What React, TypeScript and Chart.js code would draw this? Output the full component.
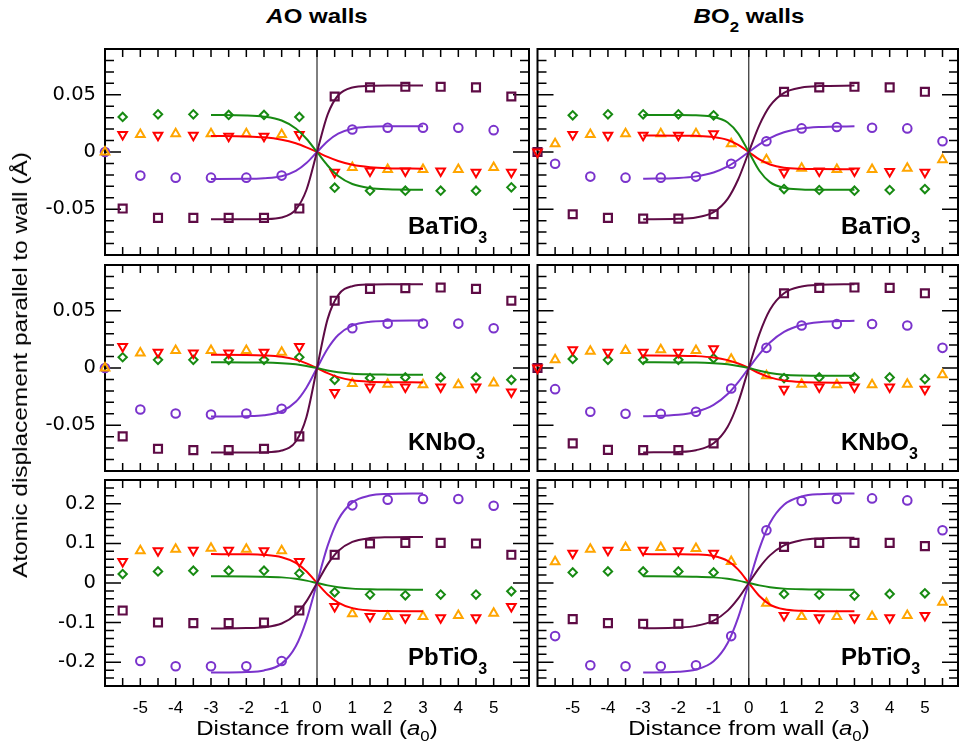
import React, { useEffect, useRef } from "react";
import { Chart, registerables } from "chart.js";
Chart.register(...registerables);

// ---------- tick labels ----------
const xTickLabels = [-5, -4, -3, -2, -1, 0, 1, 2, 3, 4, 5];
const yTicksSmall = [-0.05, 0, 0.05];
const yTicksLarge = [-0.2, -0.1, 0, 0.1, 0.2];
const yRangeSmall = [-0.09, 0.09];
const yRangeLarge = [-0.26, 0.26];
const xRangeLeft = [-6, 6];
const xRangeRight = [-6, 5.94];

// ---------- x positions ----------
const xHalf = [-5.5, -4.5, -3.5, -2.5, -1.5, -0.5, 0.5, 1.5, 2.5, 3.5, 4.5, 5.5];
const xInt = [-5, -4, -3, -2, -1, 1, 2, 3, 4, 5];
const xIntWall = [-6, -5, -4, -3, -2, -1, 1, 2, 3, 4, 5];
const xCurve = [-3, -2, -1.5, -1, -0.6, -0.3, 0, 0.3, 0.6, 1, 1.5, 2, 3];

// ---------- BaTiO3, AO walls ----------
const batAoSquare = [-0.0494, -0.0576, -0.0576, -0.0576, -0.0576, -0.0494, 0.0485, 0.0565, 0.057, 0.057, 0.0565, 0.0485];
const batAoDiamond = [0.0306, 0.0329, 0.0329, 0.0324, 0.0324, 0.0306, -0.0312, -0.0338, -0.0338, -0.0338, -0.0338, -0.0309];
const batAoDown = [0.0153, 0.0147, 0.0147, 0.0138, 0.0138, 0.0153, -0.0176, -0.0165, -0.0165, -0.0165, -0.0176, -0.0176];
const batAoCircle = [0, -0.0206, -0.0224, -0.0224, -0.0224, -0.0206, 0.0197, 0.0212, 0.0212, 0.0212, 0.0191];
const batAoUp = [0, 0.0153, 0.0159, 0.0159, 0.0159, 0.0153, -0.0135, -0.0153, -0.0153, -0.0153, -0.0135];
const batAoFitSquare = [-0.0588, -0.0588, -0.0586, -0.0572, -0.0503, -0.0332, 0, 0.0327, 0.0496, 0.0564, 0.0578, 0.058, 0.058];
const batAoFitCircle = [-0.0235, -0.0234, -0.0229, -0.0212, -0.0166, -0.0097, 0, 0.0094, 0.016, 0.0203, 0.0221, 0.0225, 0.0226];
const batAoFitDiamond = [0.0324, 0.032, 0.0309, 0.0275, 0.0206, 0.0116, 0, -0.0118, -0.021, -0.028, -0.0315, -0.0326, -0.033];
const batAoFitDown = [0.014, 0.0136, 0.0128, 0.0107, 0.0076, 0.0041, 0, -0.0043, -0.0079, -0.0112, -0.0133, -0.0142, -0.0146];

// ---------- BaTiO3, BO2 walls ----------
const batBoSquare = [0, -0.0544, -0.0576, -0.0582, -0.0582, -0.0544, 0.0526, 0.0565, 0.057, 0.0565, 0.0526];
const batBoDiamond = [0.0321, 0.0329, 0.0329, 0.0329, 0.0321, -0.0324, -0.0332, -0.0338, -0.0332, -0.0324];
const batBoDown = [0, 0.0153, 0.0147, 0.0147, 0.0147, 0.0159, -0.0176, -0.0165, -0.0165, -0.0171, -0.0176];
const batBoCircle = [-0.0103, -0.0215, -0.0224, -0.0224, -0.0215, -0.0103, 0.0094, 0.0206, 0.0218, 0.0212, 0.0206, 0.0094];
const batBoUp = [0.0071, 0.0153, 0.0159, 0.0159, 0.0159, 0.0071, -0.0068, -0.0141, -0.0153, -0.0153, -0.0141, -0.0068];
const batBoFitSquare = [-0.0588, -0.0584, -0.0572, -0.0525, -0.0409, -0.0238, 0, 0.0235, 0.0403, 0.0517, 0.0564, 0.0576, 0.058];
const batBoFitCircle = [-0.0234, -0.0227, -0.0213, -0.0179, -0.0126, -0.0068, 0, 0.0066, 0.0121, 0.0172, 0.0205, 0.0218, 0.0225];
const batBoFitDiamond = [0.0324, 0.0324, 0.0321, 0.0307, 0.0258, 0.0161, 0, -0.0164, -0.0263, -0.0313, -0.0327, -0.033, -0.033];
const batBoFitDown = [0.0144, 0.0143, 0.0141, 0.0131, 0.0105, 0.0062, 0, -0.0065, -0.0109, -0.0137, -0.0147, -0.0149, -0.015];

// ---------- KNbO3, AO walls ----------
const knbAoSquare = [-0.0597, -0.0706, -0.0718, -0.0718, -0.0706, -0.0597, 0.0588, 0.0691, 0.0697, 0.0703, 0.0691, 0.0588];
const knbAoDiamond = [0.0094, 0.0071, 0.0071, 0.0071, 0.0071, 0.0094, -0.0103, -0.0088, -0.0082, -0.0082, -0.0082, -0.0103];
const knbAoDown = [0.0188, 0.0138, 0.0132, 0.0132, 0.0138, 0.0188, -0.0215, -0.0165, -0.0165, -0.0165, -0.0165, -0.0209];
const knbAoCircle = [0, -0.0362, -0.0397, -0.0406, -0.0397, -0.0356, 0.0347, 0.0388, 0.0388, 0.0388, 0.0347];
const knbAoUp = [0, 0.0132, 0.0153, 0.0153, 0.0153, 0.0138, -0.0135, -0.0141, -0.0147, -0.0147, -0.0132];
const knbAoFitSquare = [-0.0738, -0.0738, -0.0736, -0.0721, -0.0642, -0.043, 0, 0.0427, 0.0637, 0.0715, 0.073, 0.0732, 0.0732];
const knbAoFitCircle = [-0.0424, -0.0421, -0.0413, -0.0378, -0.0295, -0.0172, 0, 0.0168, 0.0288, 0.037, 0.0404, 0.0412, 0.0415];
const knbAoFitDiamond = [0.005, 0.0049, 0.0048, 0.0042, 0.0032, 0.0018, 0, -0.0021, -0.0037, -0.005, -0.0056, -0.0058, -0.0059];
const knbAoFitDown = [0.0115, 0.0114, 0.011, 0.0098, 0.0073, 0.0041, 0, -0.0045, -0.008, -0.0107, -0.012, -0.0124, -0.0126];

// ---------- KNbO3, BO2 walls ----------
const knbBoSquare = [0, -0.0659, -0.0715, -0.0718, -0.0718, -0.0659, 0.0653, 0.07, 0.0703, 0.07, 0.0653];
const knbBoDiamond = [0.0079, 0.0071, 0.0071, 0.0071, 0.0085, -0.0088, -0.0082, -0.0082, -0.0082, -0.0097];
const knbBoDown = [0, 0.0159, 0.0138, 0.0138, 0.0138, 0.0168, -0.0185, -0.0165, -0.0165, -0.0165, -0.0185];
const knbBoCircle = [-0.0185, -0.0382, -0.04, -0.04, -0.0382, -0.0179, 0.0176, 0.0371, 0.0385, 0.0385, 0.0371, 0.0176];
const knbBoUp = [0.0071, 0.0147, 0.0153, 0.0159, 0.0153, 0.0076, -0.0068, -0.0141, -0.0147, -0.0147, -0.0141, -0.0059];
const knbBoFitSquare = [-0.0738, -0.0733, -0.0718, -0.0658, -0.0513, -0.0299, 0, 0.0296, 0.0509, 0.0653, 0.0712, 0.0727, 0.0732];
const knbBoFitCircle = [-0.0422, -0.0409, -0.0384, -0.0323, -0.0228, -0.0123, 0, 0.0121, 0.0223, 0.0316, 0.0376, 0.04, 0.0413];
const knbBoFitDiamond = [0.005, 0.0049, 0.0048, 0.0042, 0.0032, 0.0018, 0, -0.0024, -0.0043, -0.0058, -0.0065, -0.0067, -0.0068];
const knbBoFitDown = [0.0109, 0.0108, 0.0104, 0.0092, 0.0069, 0.0039, 0, -0.0046, -0.0082, -0.0109, -0.0123, -0.0127, -0.0129];

// ---------- PbTiO3, AO walls ----------
const ptoAoSquare = [-0.0695, -0.0997, -0.1013, -0.1013, -0.0997, -0.0695, 0.0712, 0.0997, 0.1013, 0.1013, 0.0997, 0.0712];
const ptoAoDiamond = [0.0226, 0.0293, 0.031, 0.031, 0.031, 0.0243, -0.0235, -0.0293, -0.031, -0.0293, -0.0293, -0.0209];
const ptoAoDown = [0.0544, 0.0812, 0.0829, 0.0829, 0.0812, 0.0544, -0.0595, -0.0846, -0.0879, -0.0879, -0.0879, -0.0595];
const ptoAoCircle = [-0.1968, -0.2102, -0.2102, -0.2102, -0.1968, 0.196, 0.2102, 0.2119, 0.2119, 0.1951];
const ptoAoUp = [0.0812, 0.0854, 0.0879, 0.0854, 0.0812, -0.0779, -0.0846, -0.0846, -0.0821, -0.0762];
const ptoAoFitSquare = [-0.1147, -0.1139, -0.1116, -0.1023, -0.0797, -0.0465, 0, 0.0471, 0.0809, 0.1038, 0.1133, 0.1156, 0.1164];
const ptoAoFitCircle = [-0.2261, -0.2247, -0.2207, -0.2035, -0.1596, -0.0936, 0, 0.0936, 0.1596, 0.2035, 0.2207, 0.2247, 0.2261];
const ptoAoFitDiamond = [0.0168, 0.0166, 0.016, 0.0142, 0.0107, 0.006, 0, -0.006, -0.0107, -0.0142, -0.016, -0.0166, -0.0168];
const ptoAoFitDown = [0.0729, 0.0724, 0.0709, 0.065, 0.0507, 0.0295, 0, -0.0288, -0.0495, -0.0635, -0.0693, -0.0707, -0.0712];

// ---------- PbTiO3, BO2 walls ----------
const ptoBoSquare = [-0.0913, -0.1013, -0.103, -0.103, -0.0913, 0.0913, 0.1013, 0.1013, 0.1013, 0.093];
const ptoBoDiamond = [0.0268, 0.0293, 0.0293, 0.0293, 0.0268, -0.0276, -0.0293, -0.0318, -0.0276, -0.026];
const ptoBoDown = [0.0754, 0.0829, 0.0829, 0.0812, 0.0754, -0.0821, -0.0879, -0.0879, -0.0879, -0.0821];
const ptoBoCircle = [-0.134, -0.2077, -0.2102, -0.2102, -0.2077, -0.134, 0.1332, 0.2069, 0.2119, 0.2136, 0.2085, 0.1332];
const ptoBoUp = [0.0536, 0.0854, 0.0896, 0.0896, 0.0871, 0.0544, -0.0511, -0.0846, -0.0846, -0.0846, -0.0821, -0.0486];
const ptoBoFitSquare = [-0.1145, -0.1126, -0.1082, -0.0949, -0.0697, -0.0389, 0, 0.0389, 0.0697, 0.0949, 0.1082, 0.1126, 0.1145];
const ptoBoFitCircle = [-0.2259, -0.2241, -0.2184, -0.1976, -0.1515, -0.0868, 0, 0.0868, 0.1515, 0.1976, 0.2184, 0.2241, 0.2259];
const ptoBoFitDiamond = [0.0168, 0.0166, 0.016, 0.0142, 0.0107, 0.006, 0, -0.006, -0.0107, -0.0142, -0.016, -0.0166, -0.0168];
const ptoBoFitDown = [0.0729, 0.0727, 0.072, 0.0679, 0.0556, 0.0337, 0, -0.0329, -0.0543, -0.0664, -0.0703, -0.071, -0.0712];

// ---------- styles ----------
const C_SQ = "#5e0b45";
const C_CI = "#7a33cc";
const C_DI = "#178a12";
const C_UP = "#ffa500";
const C_DN = "#ff0000";
const FONT = "'Liberation Sans', Arial, Helvetica, sans-serif";
const YFONT = "'DejaVu Sans', 'Liberation Sans', sans-serif";

type S = { x: number[]; y: number[] };
interface PanelDef {
  row: number;
  col: number;
  formula: string;
  yRange: number[];
  yMajor: number[];
  yMinorStep: number;
  sq: S; ci: S; di: S; up: S; dn: S;
  fitSq: number[]; fitCi: number[]; fitDi: number[]; fitDn: number[];
}

const panels: PanelDef[] = [
  { row: 0, col: 0, formula: "BaTiO", yRange: yRangeSmall, yMajor: yTicksSmall, yMinorStep: 0.01,
    sq: { x: xHalf, y: batAoSquare }, di: { x: xHalf, y: batAoDiamond }, dn: { x: xHalf, y: batAoDown },
    ci: { x: xIntWall, y: batAoCircle }, up: { x: xIntWall, y: batAoUp },
    fitSq: batAoFitSquare, fitCi: batAoFitCircle, fitDi: batAoFitDiamond, fitDn: batAoFitDown },
  { row: 0, col: 1, formula: "BaTiO", yRange: yRangeSmall, yMajor: yTicksSmall, yMinorStep: 0.01,
    sq: { x: xIntWall, y: batBoSquare }, di: { x: xInt, y: batBoDiamond }, dn: { x: xIntWall, y: batBoDown },
    ci: { x: xHalf, y: batBoCircle }, up: { x: xHalf, y: batBoUp },
    fitSq: batBoFitSquare, fitCi: batBoFitCircle, fitDi: batBoFitDiamond, fitDn: batBoFitDown },
  { row: 1, col: 0, formula: "KNbO", yRange: yRangeSmall, yMajor: yTicksSmall, yMinorStep: 0.01,
    sq: { x: xHalf, y: knbAoSquare }, di: { x: xHalf, y: knbAoDiamond }, dn: { x: xHalf, y: knbAoDown },
    ci: { x: xIntWall, y: knbAoCircle }, up: { x: xIntWall, y: knbAoUp },
    fitSq: knbAoFitSquare, fitCi: knbAoFitCircle, fitDi: knbAoFitDiamond, fitDn: knbAoFitDown },
  { row: 1, col: 1, formula: "KNbO", yRange: yRangeSmall, yMajor: yTicksSmall, yMinorStep: 0.01,
    sq: { x: xIntWall, y: knbBoSquare }, di: { x: xInt, y: knbBoDiamond }, dn: { x: xIntWall, y: knbBoDown },
    ci: { x: xHalf, y: knbBoCircle }, up: { x: xHalf, y: knbBoUp },
    fitSq: knbBoFitSquare, fitCi: knbBoFitCircle, fitDi: knbBoFitDiamond, fitDn: knbBoFitDown },
  { row: 2, col: 0, formula: "PbTiO", yRange: yRangeLarge, yMajor: yTicksLarge, yMinorStep: 0.02,
    sq: { x: xHalf, y: ptoAoSquare }, di: { x: xHalf, y: ptoAoDiamond }, dn: { x: xHalf, y: ptoAoDown },
    ci: { x: xInt, y: ptoAoCircle }, up: { x: xInt, y: ptoAoUp },
    fitSq: ptoAoFitSquare, fitCi: ptoAoFitCircle, fitDi: ptoAoFitDiamond, fitDn: ptoAoFitDown },
  { row: 2, col: 1, formula: "PbTiO", yRange: yRangeLarge, yMajor: yTicksLarge, yMinorStep: 0.02,
    sq: { x: xInt, y: ptoBoSquare }, di: { x: xInt, y: ptoBoDiamond }, dn: { x: xInt, y: ptoBoDown },
    ci: { x: xHalf, y: ptoBoCircle }, up: { x: xHalf, y: ptoBoUp },
    fitSq: ptoBoFitSquare, fitCi: ptoBoFitCircle, fitDi: ptoBoFitDiamond, fitDn: ptoBoFitDown },
];

// geometry of the canvases
const colGeom = [
  { x: 0, w: 535, padL: 0, padR: 6, yAxis: true, center: 317, labelLeft: 408 },
  { x: 531, w: 428, padL: 6.5, padR: 1, yAxis: false, center: 749, labelLeft: 841 },
];
const rowGeom = [
  { y: 40, h: 222, padT: 9, padB: 7, xAxis: false, bottom: 255 },
  { y: 258, h: 220, padT: 7, padB: 7, xAxis: false, bottom: 471 },
  { y: 474, h: 280, padT: 6, padB: 0, xAxis: true, bottom: 686 },
];

const frameTicks = {
  id: "frameTicks",
  beforeDatasetsDraw(chart: any) {
    const o = chart.options.plugins.frameTicks;
    const { ctx } = chart;
    const { left, right, top, bottom } = chart.chartArea;
    const xs = chart.scales.x;
    const ys = chart.scales.y;
    ctx.save();
    ctx.strokeStyle = "#000";
    // zero line
    ctx.lineWidth = 1;
    const x0 = xs.getPixelForValue(0);
    ctx.beginPath();
    ctx.moveTo(x0, top);
    ctx.lineTo(x0, bottom);
    ctx.stroke();
    // ticks
    ctx.lineWidth = 1.5;
    ctx.beginPath();
    const xk0 = Math.ceil(xs.min / o.xStep - 1e-6);
    const xk1 = Math.floor(xs.max / o.xStep + 1e-6);
    for (let k = xk0; k <= xk1; k++) {
      const px = xs.getPixelForValue(k * o.xStep);
      if (px <= left + 2 || px >= right - 2) continue;
      ctx.moveTo(px, top);
      ctx.lineTo(px, top + 8);
      ctx.moveTo(px, bottom);
      ctx.lineTo(px, bottom - 8);
    }
    const yk0 = Math.ceil(ys.min / o.yStep - 1e-6);
    const yk1 = Math.floor(ys.max / o.yStep + 1e-6);
    for (let k = yk0; k <= yk1; k++) {
      const v = k * o.yStep;
      const py = ys.getPixelForValue(v);
      if (py <= top + 2 || py >= bottom - 2) continue;
      const major = o.yMajor.some((m: number) => Math.abs(m - v) < 1e-6);
      const len = major ? 16 : 9;
      ctx.moveTo(left, py);
      ctx.lineTo(left + len, py);
      ctx.moveTo(right, py);
      ctx.lineTo(right - len, py);
    }
    ctx.stroke();
    // frame
    ctx.lineWidth = 2;
    ctx.strokeRect(left, top, right - left, bottom - top);
    ctx.restore();
  },
};

function markerDs(s: S, color: string, style: string, radius: number, rot: number, bw: number) {
  return {
    data: s.x.map((x, i) => ({ x, y: s.y[i] })),
    showLine: false,
    pointStyle: style,
    pointRadius: radius,
    pointHoverRadius: radius,
    pointRotation: rot,
    pointBorderColor: color,
    pointBackgroundColor: "rgba(0,0,0,0)",
    pointBorderWidth: bw,
    pointHoverBorderWidth: bw,
    borderColor: color,
    backgroundColor: "rgba(0,0,0,0)",
    clip: false,
  };
}

function fitDs(ys: number[], color: string) {
  return {
    data: xCurve.map((x, i) => ({ x, y: ys[i] })),
    showLine: true,
    borderColor: color,
    backgroundColor: color,
    borderWidth: 2,
    pointRadius: 0,
    pointHoverRadius: 0,
    cubicInterpolationMode: "monotone",
    fill: false,
    clip: false,
  };
}

function PanelChart({ def }: { def: PanelDef }) {
  const ref = useRef<HTMLCanvasElement>(null);
  const cg = colGeom[def.col];
  const rg = rowGeom[def.row];
  useEffect(() => {
    const xr = def.col === 0 ? xRangeLeft : xRangeRight;
    const chart = new Chart(ref.current as HTMLCanvasElement, {
      type: "scatter",
      data: {
        datasets: [
          fitDs(def.fitSq, C_SQ),
          fitDs(def.fitCi, C_CI),
          fitDs(def.fitDi, C_DI),
          fitDs(def.fitDn, C_DN),
          markerDs(def.up, C_UP, "triangle", 5, 0, 2),
          markerDs(def.dn, C_DN, "triangle", 5, 180, 2),
          markerDs(def.di, C_DI, "rectRot", 4.2, 0, 2),
          markerDs(def.ci, C_CI, "circle", 4.3, 0, 2),
          markerDs(def.sq, C_SQ, "rect", 5.6, 0, 2.2),
        ] as any,
      },
      options: {
        animation: false,
        responsive: false,
        maintainAspectRatio: false,
        devicePixelRatio: 1,
        events: [],
        layout: {
          autoPadding: false,
          padding: { left: cg.padL, right: cg.padR, top: rg.padT, bottom: rg.padB },
        },
        plugins: {
          legend: { display: false },
          tooltip: { enabled: false },
          frameTicks: { xStep: 0.5, yStep: def.yMinorStep, yMajor: def.yMajor },
        } as any,
        scales: {
          x: {
            type: "linear",
            min: xr[0],
            max: xr[1],
            display: rg.xAxis,
            position: "bottom",
            grid: { display: false, drawTicks: false },
            border: { display: false },
            afterBuildTicks: (s: any) => {
              s.ticks = xTickLabels.map((v) => ({ value: v }));
            },
            afterFit: (s: any) => {
              s.height = rg.xAxis ? 68 : 0;
              s.paddingLeft = 0;
              s.paddingRight = 0;
              s.paddingTop = 0;
              s.paddingBottom = 0;
            },
            ticks: {
              autoSkip: false,
              maxRotation: 0,
              padding: 12,
              color: "#000",
              font: { family: FONT, size: 17 },
              callback: (v: any) => String(v),
            },
          },
          y: {
            type: "linear",
            min: def.yRange[0],
            max: def.yRange[1],
            display: cg.yAxis,
            position: "left",
            grid: { display: false, drawTicks: false },
            border: { display: false },
            afterBuildTicks: (s: any) => {
              s.ticks = def.yMajor.map((v) => ({ value: v }));
            },
            afterFit: (s: any) => {
              s.width = cg.yAxis ? 105 : 0;
              s.paddingLeft = 0;
              s.paddingRight = 0;
              s.paddingTop = 0;
              s.paddingBottom = 0;
            },
            ticks: {
              autoSkip: false,
              padding: 9,
              color: "#000",
              font: { family: YFONT, size: 19.5 },
              callback: (v: any) => String(Math.round(v * 1000) / 1000),
            },
          },
        },
      } as any,
      plugins: [frameTicks],
    });
    return () => chart.destroy();
  }, []);
  return (
    <canvas
      ref={ref}
      width={cg.w}
      height={rg.h}
      style={{ position: "absolute", left: cg.x, top: rg.y, width: cg.w, height: rg.h }}
    />
  );
}

const colTitles = [
  <span key="a"><i>A</i>O walls</span>,
  <span key="b">
    <i>B</i>O<span style={{ fontSize: 14, position: "relative", top: 9 }}>2</span> walls
  </span>,
];

export default function App() {
  return (
    <div
      style={{
        position: "absolute",
        left: 0,
        top: 0,
        width: 959,
        height: 754,
        background: "#fff",
        overflow: "hidden",
        fontFamily: FONT,
        color: "#000",
      }}
    >
      {panels.map((p, i) => (
        <PanelChart key={i} def={p} />
      ))}
      {colGeom.map((c, i) => (
        <div
          key={"t" + i}
          style={{
            position: "absolute",
            left: c.center,
            top: 6,
            transform: "translateX(-50%) scaleX(1.2)",
            fontWeight: "bold",
            fontSize: 20,
            lineHeight: "20px",
            whiteSpace: "nowrap",
          }}
        >
          {colTitles[i]}
        </div>
      ))}
      {colGeom.map((c, i) => (
        <div
          key={"x" + i}
          style={{
            position: "absolute",
            left: c.center,
            top: 718,
            transform: "translateX(-50%) scaleX(1.2)",
            fontSize: 20,
            lineHeight: "20px",
            whiteSpace: "nowrap",
          }}
        >
          Distance from wall (<i>a</i>
          <span style={{ fontSize: 14, position: "relative", top: 6 }}>0</span>)
        </div>
      ))}
      {panels.map((p, i) => (
        <div
          key={"f" + i}
          style={{
            position: "absolute",
            left: colGeom[p.col].labelLeft,
            top: rowGeom[p.row].bottom - 21 - 20.3,
            fontWeight: "bold",
            fontSize: 24,
            lineHeight: "24px",
            whiteSpace: "nowrap",
          }}
        >
          {p.formula}
          <span style={{ fontSize: 16, position: "relative", top: 9 }}>3</span>
        </div>
      ))}
      <div
        style={{
          position: "absolute",
          left: 20,
          top: 365,
          transform: "translate(-50%, -50%) rotate(-90deg) scaleX(1.22)",
          fontSize: 20,
          lineHeight: "20px",
          whiteSpace: "nowrap",
        }}
      >
        Atomic displacement parallel to wall (Å)
      </div>
    </div>
  );
}
